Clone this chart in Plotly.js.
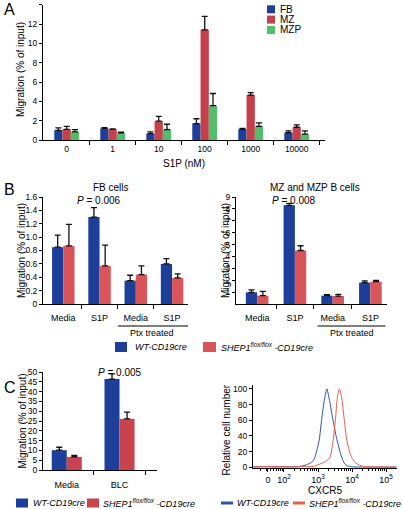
<!DOCTYPE html>
<html><head><meta charset="utf-8">
<script src="https://cdn.plot.ly/plotly-3.0.1.min.js"></script>
<style>html,body{margin:0;padding:0;background:#fff}#chart{width:403px;height:509px}</style>
</head><body><div id="chart"></div>
<script>
// ---------- Panel A : migration toward S1P ----------
const s1pConc = ['0', '1', '10', '100', '1000', '10000'];
const fbMigration = [1.0, 1.2, 0.65, 1.7, 1.1, 0.75];
const fbError = [0.25, 0.07, 0.2, 0.5, 0.1, 0.2];
const mzMigration = [1.1, 1.1, 1.95, 11.4, 4.65, 1.32];
const mzError = [0.3, 0.05, 0.5, 1.4, 0.25, 0.25];
const mzpMigration = [0.85, 0.75, 1.08, 3.56, 1.42, 0.6];
const mzpError = [0.23, 0.05, 0.55, 1.25, 0.35, 0.35];
const aTickVals = [0, 2, 4, 6, 8, 10, 12, 14];
const aSeriesNames = ['FB', 'MZ', 'MZP'];

// ---------- Panel B : WT vs SHEP1 ----------
const bConditions = ['Media', 'S1P', 'Media', 'S1P'];
const fbWT = [0.85, 1.30, 0.35, 0.60];
const fbWTErr = [0.18, 0.14, 0.08, 0.08];
const fbSHEP = [0.87, 0.57, 0.44, 0.39];
const fbSHEPErr = [0.32, 0.31, 0.13, 0.06];
const mzWT = [0.98, 8.3, 0.7, 1.8];
const mzWTErr = [0.2, 0.17, 0.08, 0.14];
const mzSHEP = [0.7, 4.5, 0.67, 1.88];
const mzSHEPErr = [0.36, 0.4, 0.14, 0.11];
const bFbTickVals = [0, 0.2, 0.4, 0.6, 0.8, 1.0, 1.2, 1.4, 1.6];
const bFbTickText = ['0', '0.2', '0.4', '0.6', '0.8', '1.0', '1.2', '1.4', '1.6'];
const bMzTickVals = [1, 2, 3, 4, 5, 6, 7, 8, 9];
const bMzTickText = ['1', '2', '3', '4', '5', '6', '7', '8', '9'];

// ---------- Panel C : BLC migration and CXCR5 ----------
const cConditions = ['Media', 'BLC'];
const blcWT = [10.1, 46.4];
const blcWTErr = [1.5, 2.6];
const blcSHEP = [6.7, 26.1];
const blcSHEPErr = [0.7, 3.4];
const cTickVals = [0, 5, 10, 15, 20, 25, 30, 35, 40, 45, 50];
// CXCR5 histogram (x in decades on the logicle display scale)
const wtCxcr5X = [1.1, 1.4, 1.7, 2.0, 2.3, 2.47, 2.62, 2.76, 2.85, 2.91, 2.98, 3.04, 3.11, 3.19, 3.26, 3.33, 3.42, 3.53, 3.65, 3.72, 3.79, 3.88, 3.99, 4.2, 4.6, 5.0, 5.3];
const wtCxcr5Y = [0.5, 0.8, 0.3, 0.6, 0.5, 1, 2.5, 5, 8, 13, 24, 36, 62, 87, 100, 87, 65, 40, 19, 10, 4, 1.5, 0.5, 0.3, 0.2, 0.1, 0.1];
const shepCxcr5X = [1.1, 1.4, 1.7, 2.0, 2.3, 2.6, 2.86, 3.0, 3.16, 3.27, 3.35, 3.45, 3.52, 3.57, 3.63, 3.69, 3.76, 3.84, 3.94, 4.02, 4.09, 4.2, 4.33, 4.6, 5.0, 5.3];
const shepCxcr5Y = [0.3, 0.6, 0.8, 0.4, 0.5, 0.7, 1, 3, 6, 9, 12, 36, 65, 90, 100, 90, 65, 36, 18, 10, 6, 3, 1, 0.5, 0.3, 0.2];
const cxcr5TickVals = [1.53, 2, 3, 4, 5];
const cxcr5TickText = ['0', '10<sup>2</sup>', '10<sup>3</sup>', '10<sup>4</sup>', '10<sup>5</sup>'];
const histTickVals = [0, 20, 40, 60, 80, 100];
const genotypeNames = ['WT-CD19cre', 'SHEP1<sup>flox/flox</sup> -CD19cre'];

// ---------- styling ----------
const W = 403, H = 509;
const px = v => v / W, py = v => 1 - v / H;
const FONT = 'Liberation Sans, Arial, sans-serif';
const BLUE = '#1d3f9a', RED_A = '#c4404b', GREEN = '#52bd6c';
const RED_B = '#d9545b', RED_C = '#c8434e';
const HBLUE = '#2f52a5', HRED = '#e2604c';
const idx = arr => arr.map((_, i) => i);

function bar(ax, cats, vals, errs, color, offset, width, name) {
  return {
    type: 'bar', name: name, x: idx(cats), y: vals,
    xaxis: 'x' + ax, yaxis: 'y' + ax,
    marker: {color: color, line: {width: 0}},
    offset: offset, width: width, showlegend: false, hoverinfo: 'skip',
    error_y: {type: 'data', symmetric: false, array: errs, arrayminus: vals.map(() => 0),
              color: '#111', thickness: 1.3, width: 3}
  };
}

const traces = [
  bar('', s1pConc, fbMigration, fbError, BLUE, -0.27, 0.18, aSeriesNames[0]),
  bar('', s1pConc, mzMigration, mzError, RED_A, -0.09, 0.18, aSeriesNames[1]),
  bar('', s1pConc, mzpMigration, mzpError, GREEN, 0.09, 0.18, aSeriesNames[2]),
  bar('2', bConditions, fbWT, fbWTErr, BLUE, -0.31, 0.31, genotypeNames[0]),
  bar('2', bConditions, fbSHEP, fbSHEPErr, RED_B, 0, 0.31, genotypeNames[1]),
  bar('3', bConditions, mzWT, mzWTErr, BLUE, -0.3, 0.3, genotypeNames[0]),
  bar('3', bConditions, mzSHEP, mzSHEPErr, RED_B, 0, 0.3, genotypeNames[1]),
  bar('4', cConditions, blcWT, blcWTErr, BLUE, -0.285, 0.285, genotypeNames[0]),
  bar('4', cConditions, blcSHEP, blcSHEPErr, RED_C, 0, 0.285, genotypeNames[1]),
  {type: 'scatter', mode: 'lines', x: wtCxcr5X, y: wtCxcr5Y, xaxis: 'x5', yaxis: 'y5',
   line: {color: HBLUE, width: 1, shape: 'spline', smoothing: 0.6}, showlegend: false, name: genotypeNames[0]},
  {type: 'scatter', mode: 'lines', x: shepCxcr5X, y: shepCxcr5Y, xaxis: 'x5', yaxis: 'y5',
   line: {color: HRED, width: 1, shape: 'spline', smoothing: 0.6}, showlegend: false, name: genotypeNames[1]}
];

const base = {
  showline: true, linecolor: '#000', linewidth: 1, showgrid: false, zeroline: false,
  ticks: 'outside', ticklen: 3, tickwidth: 1, tickcolor: '#000',
  tickfont: {size: 8.5, color: '#000', family: FONT}, fixedrange: true
};
function catX(domain, range, cats, anchor, boundaries, lablen, fsize) {
  return Object.assign({}, base, {
    domain: domain, range: range, anchor: anchor,
    tickmode: 'array', tickvals: idx(cats), ticktext: cats,
    ticklen: lablen, tickcolor: 'rgba(0,0,0,0)',
    tickfont: {size: fsize, color: '#000', family: FONT},
    minor: {tickmode: 'array', tickvals: boundaries, ticks: 'outside', ticklen: 4, tickcolor: '#000'}
  });
}
function numY(domain, range, tv, tt, anchor) {
  return Object.assign({}, base, {
    domain: domain, range: range, anchor: anchor,
    tickmode: 'array', tickvals: tv, ticktext: tt
  });
}

// minor ticks for the logicle axis
const logMinor = [];
[1, 2, 3, 4].forEach(d => { [2, 3, 4, 5, 6, 7, 8, 9].forEach(k => logMinor.push(d + Math.log10(k))); });

const layout = {
  width: W, height: H, margin: {l: 0, r: 0, t: 0, b: 0},
  paper_bgcolor: '#fff', plot_bgcolor: 'rgba(0,0,0,0)',
  font: {family: FONT, color: '#000', size: 10},
  showlegend: false, barmode: 'overlay',
  xaxis: Object.assign(catX([px(43), px(325)], [-0.515, 5.615], s1pConc, 'y', [0.5, 1.5, 2.5, 3.5, 4.5, 5.5], 1, 8.5),
    {title: {text: 'S1P (nM)', font: {size: 10, color: '#000', family: FONT}, standoff: 6}}),
  yaxis: numY([py(140), py(4.7)], [0, 14], aTickVals, aTickVals.map(String), 'x'),
  xaxis2: catX([px(43), px(188)], [-0.56, 3.44], bConditions, 'y2', [0.5, 1.5, 2.5], 5, 9),
  yaxis2: numY([py(304), py(197)], [0, 1.6], bFbTickVals, bFbTickText, 'x2'),
  xaxis3: catX([px(236), px(387)], [-0.56, 3.44], bConditions, 'y3', [0.5, 1.5, 2.5], 5, 9),
  yaxis3: numY([py(304), py(197)], [0, 9], bMzTickVals, bMzTickText, 'x3'),
  xaxis4: catX([px(43), px(157)], [-0.45, 1.71], cConditions, 'y4', [0.5, 1.5], 6, 9),
  yaxis4: numY([py(470), py(372)], [0, 50], cTickVals, cTickVals.map(String), 'x4'),
  xaxis5: Object.assign({}, base, {
    domain: [px(253), px(397)], range: [1.09, 5.32], anchor: 'y5',
    tickmode: 'array', tickvals: cxcr5TickVals, ticktext: cxcr5TickText,
    tickfont: {size: 9, color: '#000', family: FONT},
    minor: {tickmode: 'array', tickvals: logMinor, ticks: 'outside', ticklen: 2, tickcolor: '#000'},
    title: {text: 'CXCR5', font: {size: 10, color: '#000', family: FONT}, standoff: 0}
  }),
  yaxis5: numY([py(468), py(385)], [-1, 105], histTickVals, histTickVals.map(String), 'x5'),
  shapes: [
    {type: 'line', xref: 'x2', yref: 'paper', x0: 1.51, x1: 3.5, y0: py(326), y1: py(326), line: {color: '#000', width: 1}},
    {type: 'line', xref: 'x3', yref: 'paper', x0: 1.6, x1: 3.4, y0: py(326), y1: py(326), line: {color: '#000', width: 1}}
  ],
  annotations: []
};

function note(text, x, y, opts) {
  layout.annotations.push(Object.assign({
    text: text, x: px(x), y: py(y), xref: 'paper', yref: 'paper', showarrow: false,
    xanchor: 'center', yanchor: 'middle', font: {size: 10, color: '#000', family: FONT}
  }, opts || {}));
}
function yTitle(text, x, y) { note(text, x, y, {textangle: -90}); }
function key(color, x0, x1, yc, h) {
  layout.shapes.push({type: 'rect', xref: 'paper', yref: 'paper', x0: px(x0), x1: px(x1),
    y0: py(yc + h / 2), y1: py(yc - h / 2), fillcolor: color, line: {width: 0}});
}
function label(text, x, y, size, italic) {
  note(italic ? '<i>' + text + '</i>' : text, x, y, {xanchor: 'left', font: {size: size, color: '#000', family: FONT}});
}

// axis titles (placed next to tick labels)
const migTitle = 'Migration (% of input)';
yTitle(migTitle, 21, 70);
yTitle(migTitle, 21, 251);
yTitle(migTitle, 225, 251);
yTitle(migTitle, 21.5, 421);
yTitle('Relative cell number', 225.5, 430);

// panel letters
note('A', 2, 9, {xanchor: 'left', font: {size: 16, color: '#000', family: FONT}});
note('B', 2, 189, {xanchor: 'left', font: {size: 16, color: '#000', family: FONT}});
note('C', 2, 387, {xanchor: 'left', font: {size: 16, color: '#000', family: FONT}});
// panel A legend
key(BLUE, 267, 275, 9.3, 8); label(aSeriesNames[0], 278, 9.3, 10);
key(RED_A, 267, 275, 19.6, 8); label(aSeriesNames[1], 278, 19.6, 10);
key(GREEN, 267, 275, 30, 8); label(aSeriesNames[2], 278, 30, 10);
// panel B titles
note('FB cells', 111, 188);
note('MZ and MZP B cells', 315, 188);
note('<i>P</i> = 0.006', 99, 200);
note('<i>P</i> = 0.008', 294, 200);
note('Ptx treated', 152, 333, {font: {size: 9, color: '#000', family: FONT}});
note('Ptx treated', 352, 333, {font: {size: 9, color: '#000', family: FONT}});
// panel B legend
key(BLUE, 115, 127, 347, 10); label(genotypeNames[0], 133, 347, 9, true);
key(RED_B, 203, 216, 347, 10); label(genotypeNames[1], 219, 347, 9, true);
// panel C
note('<i>P</i> = 0.005', 120, 372);
key(BLUE, 16, 28, 503, 9); label(genotypeNames[0], 31, 503, 9, true);
key(RED_C, 87, 99, 503, 9); label(genotypeNames[1], 101, 503, 9, true);
key(HBLUE, 221, 233, 503, 3); label(genotypeNames[0], 235, 503, 9, true);
key(HRED, 293, 305, 503, 3); label(genotypeNames[1], 307, 503, 9, true);

Plotly.newPlot('chart', traces, layout, {staticPlot: true, displayModeBar: false});
</script>
</body></html>
